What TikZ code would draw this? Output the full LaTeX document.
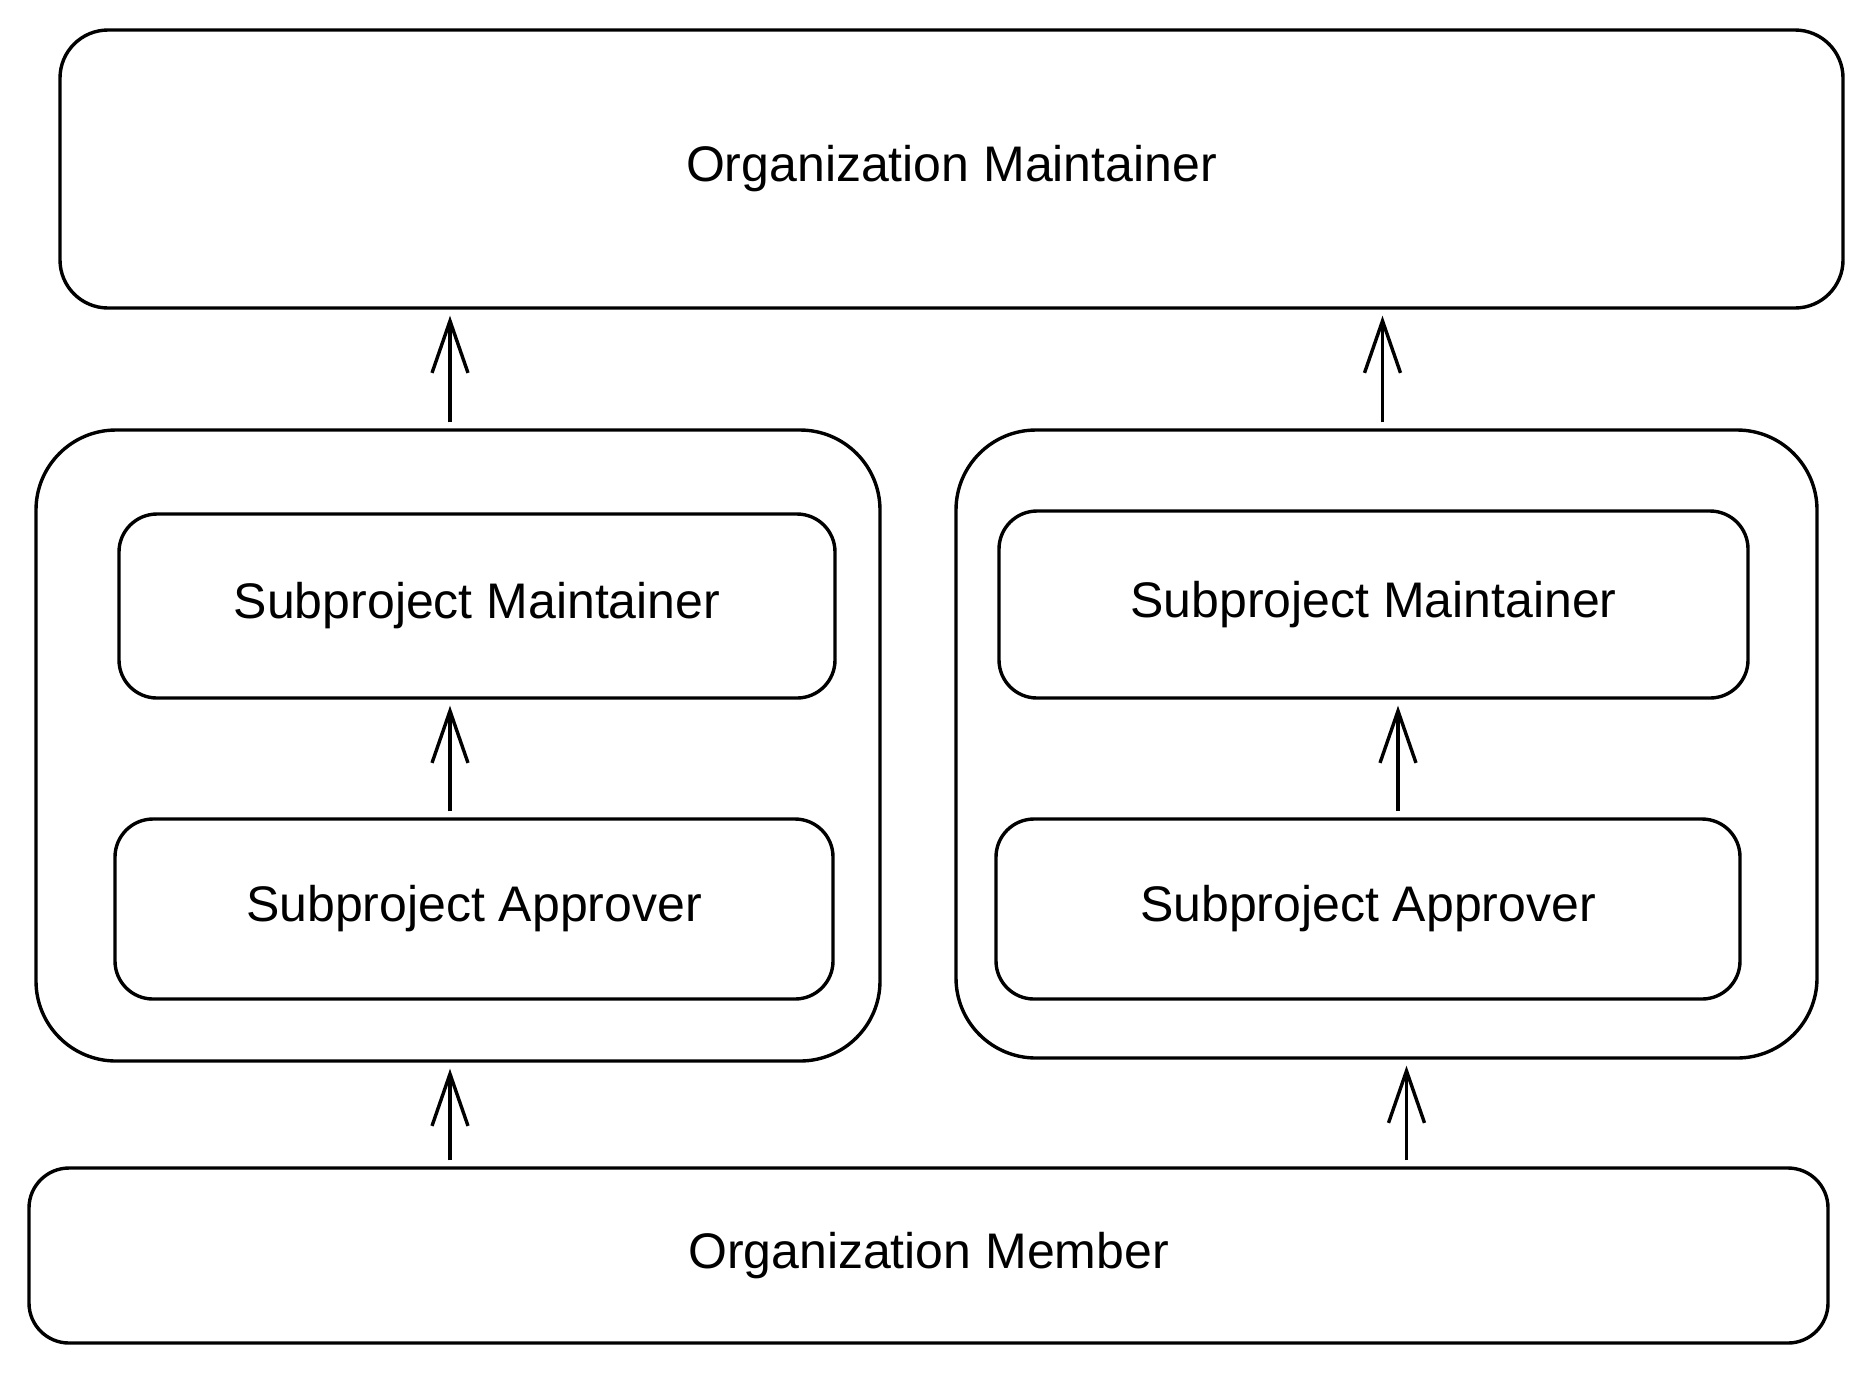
\documentclass[tikz,border=0pt]{standalone}
\usepackage{fontspec}
\setmainfont{Liberation Sans}
\usetikzlibrary{
    arrows.meta,
    positioning,
}

\tikzset{
  box/.style={draw, line width=1.7pt, rounded corners=#1, inner sep=0pt,
    font=\fontsize{25}{30}\selectfont},
  box/.default=19pt,
  up/.style={-{Straight Barb[length=26pt,width=18pt,line width=1.7pt]},
    line width=1.7pt, shorten <=3pt, shorten >=3pt},
}

\begin{document}
\begin{tikzpicture}[x=0.5pt, y=-0.5pt]
  \useasboundingbox (0,0) rectangle (1873,1372);

  \node [box=24pt, minimum width=891.5pt, minimum height=139pt]
        (orgmaint) at (951.5,169) {Organization Maintainer};

  \node [box=40pt, minimum width=422pt, minimum height=315.5pt]
        (leftgrp) at (458,745.5) {};
  \node [box, minimum width=358pt, minimum height=92pt]
        (leftsm) at (477,606) {Subproject Maintainer};
  \node [box, minimum width=359pt, minimum height=90pt]
        (leftsa) at (474,909) {Subproject Approver};

  \node [box=40pt, minimum width=430.5pt, minimum height=314pt]
        (rightgrp) at (1386.5,744) {};
  \node [box, minimum width=374.5pt, minimum height=93.5pt]
        (rightsm) at (1373.5,604.5) {Subproject Maintainer};
  \node [box, minimum width=372pt, minimum height=90pt]
        (rightsa) at (1368,909) {Subproject Approver};

  \node [box=20pt, minimum width=899.5pt, minimum height=87.5pt]
        (orgmember) at (928.5,1255.5) {Organization Member};

  \draw [up] ([xshift=-4pt]leftgrp.north) -- ([xshift=-4pt]leftgrp.north |- orgmaint.south);
  \draw [up] ([xshift=-2pt]rightgrp.north) -- ([xshift=-2pt]rightgrp.north |- orgmaint.south);

  \draw [up] ([xshift=-12pt]leftsa.north) -- ([xshift=-12pt]leftsa.north |- leftsm.south);
  \draw [up] ([xshift=15pt]rightsa.north) -- ([xshift=15pt]rightsa.north |- rightsm.south);

  \draw [up] ([xshift=-4pt]leftgrp.south |- orgmember.north) -- ([xshift=-4pt]leftgrp.south);
  \draw [up] ([xshift=10pt]rightgrp.south |- orgmember.north) -- ([xshift=10pt]rightgrp.south);
\end{tikzpicture}
\end{document}
